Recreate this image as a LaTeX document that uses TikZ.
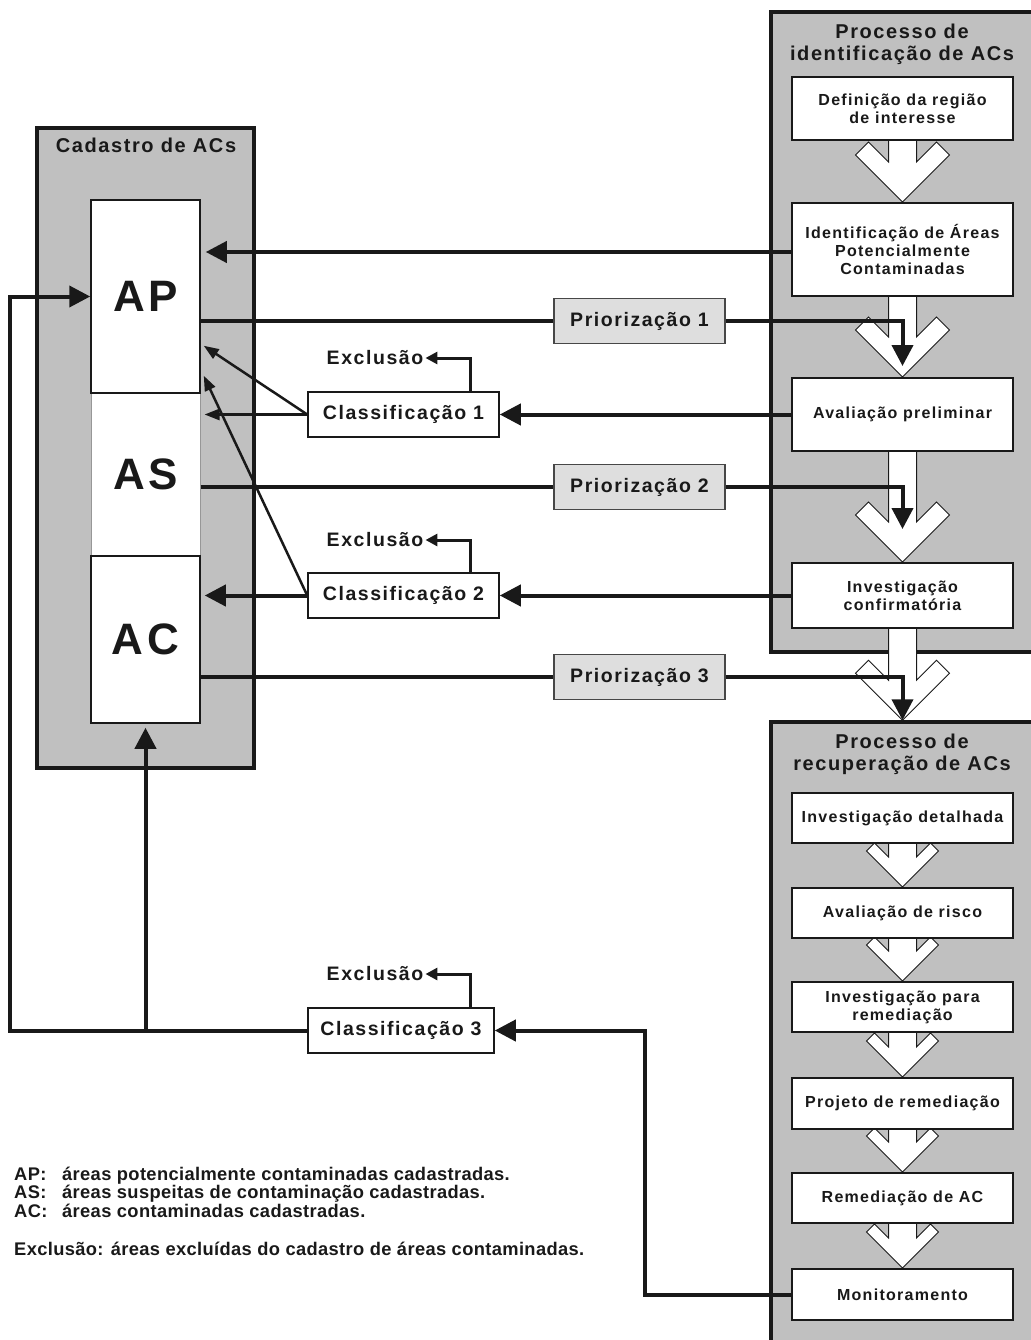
\documentclass[tikz,border=0pt]{standalone}
\usepackage{fontspec}
\setmainfont{Liberation Sans}
\newfontfamily\lblfont[LetterSpace=8]{Liberation Sans}
\newfontfamily\legfont[LetterSpace=2]{Liberation Sans}
\usetikzlibrary{arrows.meta,calc}

\definecolor{ink}{RGB}{25,25,25}
\definecolor{panelgray}{RGB}{192,192,192}
\definecolor{priogray}{RGB}{222,222,222}

\pgfdeclarelayer{back}
\pgfdeclarelayer{chevrons}
\pgfsetlayers{back,chevrons,main}

% hollow block arrow: #1 source node, #2 tip anchor, #3 head reach, #4 wing
\newcommand\blockarrow[4]{%
  \draw[draw=ink, line width=1pt, fill=white, line join=miter]
    let \p1=(#1.south), \p2=(#2) in
    (\x1-14pt,\y1) -- (\x1-14pt,\y2+2*#4+14pt) -- (\x1-#3+#4,\y2+#3+#4)
    -- (\x1-#3,\y2+#3) -- (\x1,\y2) -- (\x1+#3,\y2+#3)
    -- (\x1+#3-#4,\y2+#3+#4) -- (\x1+14pt,\y2+2*#4+14pt) -- (\x1+14pt,\y1);}

\begin{document}
\begin{tikzpicture}[x=1pt, y=-1pt,
    panel/.style={draw=ink, line width=3.5pt, fill=panelgray},
    title/.style={align=center, text=ink, inner sep=0pt,
      font=\lblfont\bfseries\fontsize{20}{22}\selectfont},
    stepbox/.style={draw=ink, line width=2pt, fill=white, minimum width=221pt,
      align=center, text=ink, inner sep=2pt,
      font=\lblfont\bfseries\fontsize{16}{18}\selectfont},
    catbox/.style={draw=ink, line width=1.5pt, fill=white, minimum width=109pt,
      text=ink, font=\lblfont\bfseries\fontsize{44}{44}\selectfont},
    prio/.style={draw=ink!80, line width=1.2pt, fill=priogray, minimum width=171pt,
      minimum height=45pt, text=ink, font=\lblfont\bfseries\fontsize{19.5}{22}\selectfont},
    cls/.style={draw=ink, line width=1.5pt, fill=white, minimum width=191pt,
      minimum height=45pt, text=ink, font=\lblfont\bfseries\fontsize{19.5}{22}\selectfont},
    excl/.style={inner sep=2pt, text=ink, font=\lblfont\bfseries\fontsize{19.5}{22}\selectfont},
    legend/.style={anchor=base west, inner sep=0pt, text=ink,
      font=\legfont\bfseries\fontsize{18.3}{20}\selectfont},
    link/.style={draw=ink, line width=4pt, >={Triangle[length=21pt,width=21pt]}},
    thinlink/.style={draw=ink, line width=2.5pt, >={Triangle[length=15pt,width=11pt]}},
    exlink/.style={draw=ink, line width=3pt, >={Triangle[length=12pt,width=12pt]}}]

\useasboundingbox (0,0) rectangle (1030,1340);
\clip (0,0) rectangle (1030,1340);

% panels
\begin{pgfonlayer}{back}
  \node[panel, minimum width=269pt, minimum height=640pt] (ident) at (905.5,332) {};
  \node[panel, minimum width=269pt, minimum height=660pt] (recup) at (905.5,1052) {};
  \node[panel, minimum width=217pt, minimum height=640pt] (cad) at (145.5,448) {};
\end{pgfonlayer}

\node[title] (t1) at (902,44) {Processo de\\identificação de ACs};
\node[title] (t2) at (902,754) {Processo de\\recuperação de ACs};
\node[title] (t3) at (146,145) {Cadastro de ACs};

% process steps
\begin{scope}[every node/.style={stepbox}]
  \node[minimum height=63pt] (def) at (902.5,108.5) {Definição da região\\de interesse};
  \node[minimum height=93pt] (ipc) at (902.5,249.5) {Identificação de Áreas\\Potencialmente\\Contaminadas};
  \node[minimum height=73pt] (aval) at (902.5,414.5) {Avaliação preliminar};
  \node[minimum height=65pt] (conf) at (902.5,595.5) {Investigação\\confirmatória};
  \node[minimum height=50pt] (det) at (902.5,818) {Investigação detalhada};
  \node[minimum height=50pt] (risco) at (902.5,913) {Avaliação de risco};
  \node[minimum height=50pt] (invrem) at (902.5,1007) {Investigação para\\remediação};
  \node[minimum height=51pt] (proj) at (902.5,1103.5) {Projeto de remediação};
  \node[minimum height=50pt] (remed) at (902.5,1198) {Remediação de AC};
  \node[minimum height=51pt] (mon) at (902.5,1294.5) {Monitoramento};
\end{scope}

\begin{pgfonlayer}{chevrons}
  \blockarrow{def}{ipc.north}{47pt}{13pt}
  \blockarrow{ipc}{aval.north}{47pt}{13pt}
  \blockarrow{aval}{conf.north}{47pt}{13pt}
  \blockarrow{conf}{recup.north}{47pt}{13pt}
  \blockarrow{det}{risco.north}{36pt}{8pt}
  \blockarrow{risco}{invrem.north}{36pt}{8pt}
  \blockarrow{invrem}{proj.north}{36pt}{8pt}
  \blockarrow{proj}{remed.north}{36pt}{8pt}
  \blockarrow{remed}{mon.north}{36pt}{8pt}
\end{pgfonlayer}

% cadastro
\node[catbox, draw=ink!45, line width=1pt, minimum height=163pt] (AS) at (145.5,474.5) {AS};
\node[catbox, minimum height=193pt] (AP) at (145.5,296.5) {AP};
\node[catbox, minimum height=167pt] (AC) at (145.5,639.5) {AC};

\node[prio] (P1) at (639.5,321) {Priorização 1};
\node[prio] (P2) at (639.5,487) {Priorização 2};
\node[prio] (P3) at (639.5,677) {Priorização 3};

\node[cls] (C1) at (403.5,414.5) {Classificação 1};
\node[cls] (C2) at (403.5,595.5) {Classificação 2};
\node[cls, minimum width=186pt] (C3) at (401,1030.5) {Classificação 3};

\node[excl] (X1) at (375,358) {Exclusão};
\node[excl] (X2) at (375,540) {Exclusão};
\node[excl] (X3) at (375,974) {Exclusão};

\coordinate (turn) at (645,1030.5);
\coordinate (ret) at (10,1030.5);

% connectors
\draw[link, ->] ([yshift=-2.5pt]ipc.west) -- ([shift={(5pt,-2.5pt)}]ipc.west -| AP.east);
\draw[link] (AP.east |- P1.west) -- (P1.west);
\draw[link, ->] (P1.east) -| ([yshift=11pt]aval.north);
\draw[link] (AS.east |- P2.west) -- (P2.west);
\draw[link, ->] (P2.east) -| ([yshift=33pt]conf.north);
\draw[link] (AC.east |- P3.west) -- (P3.west);
\draw[link, ->] (P3.east) -| (conf.south |- recup.north);

\draw[link, ->] (aval.west) -- (C1.east);
\draw[thinlink, ->] (C1.west) -- ([xshift=4pt]C1.west -| AS.east);
\draw[thinlink, ->] (C1.west) -- ([shift={(3pt,48pt)}]AP.south east);
\draw[exlink, ->] ([xshift=67pt]C1.north) |- (X1.east);

\draw[link, ->] (conf.west) -- (C2.east);
\draw[link, ->] (C2.west) -- ([xshift=4pt]C2.west -| AC.east);
\draw[thinlink, ->] (C2.west) -- ([shift={(3pt,18pt)}]AP.south east);
\draw[exlink, ->] ([xshift=67pt]C2.north) |- (X2.east);

\draw[link, ->] (mon.west) -| (turn) -- (C3.east);
\draw[link, ->] (C3.west) -- (ret) |- (AP.west);
\draw[link, ->] (AC.south |- C3.west) -- ([yshift=-4pt]AC.south);
\draw[exlink, ->] ([xshift=69pt]C3.north) |- (X3.east);

% legend
\node[legend] (L1) at (14,1180) {\makebox[48pt][l]{AP:}áreas potencialmente contaminadas cadastradas.};
\node[legend] (L2) at (14,1198.5) {\makebox[48pt][l]{AS:}áreas suspeitas de contaminação cadastradas.};
\node[legend] (L3) at (14,1217) {\makebox[48pt][l]{AC:}áreas contaminadas cadastradas.};
\node[legend] (L4) at (14,1255) {Exclusão: áreas excluídas do cadastro de áreas contaminadas.};
\end{tikzpicture}
\end{document}
